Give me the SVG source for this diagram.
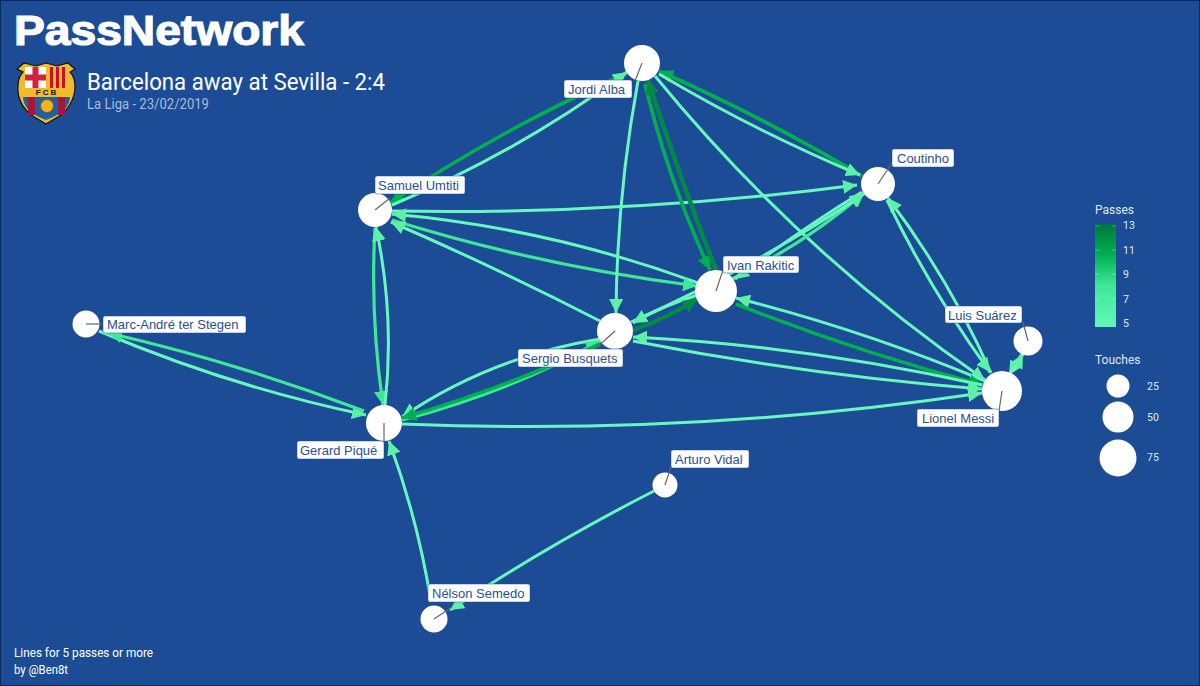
<svg xmlns="http://www.w3.org/2000/svg" width="1200" height="686" viewBox="0 0 1200 686">
<style>
.e{fill:none;stroke-linecap:butt}
.a{stroke:#68f7bd;stroke-width:3}
.b{stroke:#3fe898;stroke-width:3.2}
.c{stroke:#00b050;stroke-width:3.6}
.d{stroke:#008a45;stroke-width:4.4}
.n{fill:#fff}
.s{stroke:#666;stroke-width:1.2}
.lb{fill:#fff;stroke:#1c4c96;stroke-width:.5}
.lt{font:13px "Liberation Sans",Arial,sans-serif;fill:#2a4f92}
.r{font-family:Roboto,"Liberation Sans",sans-serif}
.lg{font-family:Roboto,"Liberation Sans",sans-serif;fill:#dfe8f5}
</style>
<defs>
<marker id="ma" markerUnits="userSpaceOnUse" markerWidth="16" markerHeight="14" refX="14" refY="7" orient="auto"><path d="M0 0L14 7L0 14Z" fill="#5cf0a8"/></marker>
<marker id="mb" markerUnits="userSpaceOnUse" markerWidth="16" markerHeight="14" refX="14" refY="7" orient="auto"><path d="M0 0L14 7L0 14Z" fill="#3fe898"/></marker>
<marker id="mc" markerUnits="userSpaceOnUse" markerWidth="16" markerHeight="14" refX="14" refY="7" orient="auto"><path d="M0 0L14 7L0 14Z" fill="#00b050"/></marker>
<marker id="md" markerUnits="userSpaceOnUse" markerWidth="16" markerHeight="14" refX="14" refY="7" orient="auto"><path d="M0 0L14 7L0 14Z" fill="#008a45"/></marker>
<linearGradient id="g" x1="0" y1="0" x2="0" y2="1"><stop offset="0" stop-color="#00773c"/><stop offset=".3" stop-color="#00b050"/><stop offset=".6" stop-color="#3fe898"/><stop offset="1" stop-color="#62f7b5"/></linearGradient>
</defs>
<rect width="1200" height="686" fill="#1c4c96" stroke="#0a2a5c" stroke-width="2"/>
<text x="14" y="45" font-family="Liberation Sans,sans-serif" font-weight="700" font-size="42" fill="#fff" stroke="#fff" stroke-width="1.2" textLength="290" lengthAdjust="spacingAndGlyphs">PassNetwork</text>
<text class="r" x="87" y="90" font-size="24" fill="#fff" textLength="298" lengthAdjust="spacingAndGlyphs">Barcelona away at Sevilla - 2:4</text>
<text class="r" x="87" y="109" font-size="14" fill="#a9bad6" textLength="122" lengthAdjust="spacingAndGlyphs">La Liga - 23/02/2019</text>
<g id="crest">
<path d="M46 124L31 115C22 107 17 97 18 86C18 80 20 75 23 72L17 69L24 63L36 66L46 63L57 66L68 63L75 69L70 72C73 75 75 80 75 86C75 97 70 107 61 115Z" fill="#f0bc2c" stroke="#111" stroke-width="1.2"/>
<rect x="25" y="67" width="21" height="21" fill="#fff"/><path d="M32.500 67h6v21h-6zM25 74.500h21v6H25z" fill="#d0243c"/>
<rect x="48" y="67" width="21" height="21" fill="#f0bc2c"/><path d="M50 67h3v21h-3zM56 67h3v21h-3zM62 67h3v21h-3z" fill="#c8102e"/>
<path d="M23 97H70C70 106 62 114 46 120C30 114 23 106 23 97Z" fill="#1f5fa8"/>
<path d="M28 97h7v18h-7zM58 97h7v18h-7z" fill="#a3173f"/>
<circle cx="47" cy="106" r="6.500" fill="#f0b323" stroke="#7a5a00" stroke-width=".8"/>
<text x="47" y="95" text-anchor="middle" font-family="Liberation Sans,sans-serif" font-weight="700" font-size="8" letter-spacing="2" fill="#111">FCB</text>
</g>
<g id="connectors">
<path class="e a" marker-end="url(#ma)" d="M99 331Q228 386 366 415"/>
<path class="e b" marker-end="url(#mb)" d="M364 411Q236 362 108 333"/>
<path class="e b" marker-end="url(#mb)" d="M375 228Q370 316 383 405"/>
<path class="e a" marker-end="url(#ma)" d="M385 405Q395 316 376 227"/>
<path class="e a" marker-end="url(#ma)" d="M402 424Q693 436 982 393"/>
<path class="e a" marker-end="url(#ma)" d="M431 602Q418 520 389 441"/>
<path class="e a" marker-end="url(#ma)" d="M654 491Q548 545 450 610"/>
<path class="e c" marker-end="url(#mc)" d="M627 73Q503 128 390 203"/>
<path class="e a" marker-end="url(#ma)" d="M392 205Q517 153 627 72"/>
<path class="e a" marker-end="url(#ma)" d="M392 211Q630 215 857 185"/>
<path class="e a" marker-end="url(#ma)" d="M698 283Q549 228 392 214"/>
<path class="e b" marker-end="url(#mb)" d="M392 220Q540 266 697 286"/>
<path class="e a" marker-end="url(#ma)" d="M600 321Q497 268 391 222"/>
<path class="e a" marker-end="url(#ma)" d="M638 81Q617 195 616 313"/>
<path class="e c" marker-end="url(#mc)" d="M645 84Q668 180 710 270"/>
<path class="e d" marker-end="url(#md)" d="M716 270Q680 178 648 80"/>
<path class="e a" marker-end="url(#ma)" d="M655 76Q798 251 985 380"/>
<path class="e c" marker-end="url(#mc)" d="M862 176Q765 118 659 71"/>
<path class="e a" marker-end="url(#ma)" d="M659 74Q755 131 860 175"/>
<path class="e a" marker-end="url(#ma)" d="M991 373Q950 280 888 198"/>
<path class="e a" marker-end="url(#ma)" d="M887 200Q930 290 990 372"/>
<path class="e b" marker-end="url(#mb)" d="M732 279Q803 245 864 193"/>
<path class="e a" marker-end="url(#ma)" d="M862 192Q800 230 735 279"/>
<path class="e a" marker-end="url(#ma)" d="M631 322Q753 268 864 194"/>
<path class="e a" marker-end="url(#ma)" d="M698 295Q664 305 633 323"/>
<path class="e d" marker-end="url(#md)" d="M633 330Q668 318 697 299"/>
<path class="e a" marker-end="url(#ma)" d="M985 381Q863 330 736 298"/>
<path class="e c" marker-end="url(#mc)" d="M736 304Q857 352 983 385"/>
<path class="e a" marker-end="url(#ma)" d="M982 385Q809 346 633 337"/>
<path class="e a" marker-end="url(#ma)" d="M633 341Q806 375 982 389"/>
<path class="e a" marker-end="url(#ma)" d="M600 339Q490 357 402 417"/>
<path class="e b" marker-end="url(#mb)" d="M402 420Q510 392 600 341"/>
<path class="e c" marker-end="url(#mc)" d="M600 344Q505 388 402 418"/>
<path class="e a" marker-end="url(#ma)" d="M1022 354Q1015 365 1009 375"/>
<path class="e a" marker-end="url(#ma)" d="M1009 375Q1017 365 1023 354"/>
</g>
<g id="jordi-alba"><circle class="n" cx="642" cy="63" r="18"/><path class="s" d="M642 63L635 81"/><rect class="lb" x="564" y="80" width="68" height="18" rx="2"/><text class="lt" x="568" y="94">Jordi Alba</text></g>
<g id="coutinho"><circle class="n" cx="878" cy="184" r="17"/><path class="s" d="M878 184L892 163"/><rect class="lb" x="892" y="149" width="62" height="18" rx="2"/><text class="lt" x="897" y="163">Coutinho</text></g>
<g id="samuel-umtiti"><circle class="n" cx="375" cy="210" r="17"/><path class="s" d="M375 210L390 198"/><rect class="lb" x="375" y="176" width="90" height="18" rx="2"/><text class="lt" x="378" y="190">Samuel Umtiti</text></g>
<g id="ivan-rakitic"><circle class="n" cx="716" cy="291" r="21"/><path class="s" d="M716 291L723 270"/><rect class="lb" x="723" y="256" width="76" height="17" rx="2"/><text class="lt" x="727" y="270">Ivan Rakitic</text></g>
<g id="sergio-busquets"><circle class="n" cx="615" cy="331" r="18"/><path class="s" d="M615 331L594 350"/><rect class="lb" x="518" y="349" width="105" height="18" rx="2"/><text class="lt" x="522" y="363">Sergio Busquets</text></g>
<g id="lionel-messi"><circle class="n" cx="1002" cy="391" r="20"/><path class="s" d="M1002 391L999 411"/><rect class="lb" x="917" y="409" width="82" height="18" rx="2"/><text class="lt" x="922" y="423">Lionel Messi</text></g>
<g id="luis-suarez"><circle class="n" cx="1028" cy="341" r="14.500"/><path class="s" d="M1028 341L1023 322"/><rect class="lb" x="945" y="306" width="77" height="17" rx="2"/><text class="lt" x="948" y="320">Luis Suárez</text></g>
<g id="ter-stegen"><circle class="n" cx="86" cy="324" r="13.500"/><path class="s" d="M86 324L103 324"/><rect class="lb" x="103" y="316" width="143" height="17" rx="2"/><text class="lt" x="107" y="329">Marc-André ter Stegen</text></g>
<g id="gerard-pique"><circle class="n" cx="384" cy="423" r="18"/><path class="s" d="M384 423L384 441"/><rect class="lb" x="297" y="441" width="87" height="18" rx="2"/><text class="lt" x="300" y="455">Gerard Piqué</text></g>
<g id="arturo-vidal"><circle class="n" cx="665" cy="485" r="12.500"/><path class="s" d="M665 485L671 467"/><rect class="lb" x="671" y="450" width="78" height="18" rx="2"/><text class="lt" x="675" y="464">Arturo Vidal</text></g>
<g id="nelson-semedo"><circle class="n" cx="434" cy="619" r="13.500"/><path class="s" d="M434 619L452 607"/><rect class="lb" x="428" y="584" width="102" height="18" rx="2"/><text class="lt" x="432" y="598">Nélson Semedo</text></g>
<g id="legend">
<text class="lg" x="1095" y="214" font-size="12">Passes</text>
<rect x="1095" y="224" width="21" height="103" fill="url(#g)"/>
<path d="M1095 226h4M1112 226h4M1095 250h4M1112 250h4M1095 274h4M1112 274h4M1095 299h4M1112 299h4" stroke="#fff" stroke-width=".5" opacity=".6"/>
<g font-size="10.500" class="lg"><text x="1123" y="229">13</text><text x="1123" y="254">11</text><text x="1123" y="278">9</text><text x="1123" y="303">7</text><text x="1123" y="327">5</text></g>
<text class="lg" x="1095" y="364" font-size="12">Touches</text>
<circle class="n" cx="1118" cy="386" r="11.500"/><circle class="n" cx="1118" cy="417" r="15.500"/><circle class="n" cx="1118" cy="458" r="18.500"/>
<g font-size="10.500" class="lg"><text x="1147" y="390">25</text><text x="1147" y="421">50</text><text x="1147" y="461">75</text></g>
</g>
<text class="r" x="14" y="657" font-size="12" fill="#fff" textLength="139" lengthAdjust="spacingAndGlyphs">Lines for 5 passes or more</text>
<text class="r" x="14" y="674" font-size="12" fill="#fff" textLength="54" lengthAdjust="spacingAndGlyphs">by @Ben8t</text>
</svg>
